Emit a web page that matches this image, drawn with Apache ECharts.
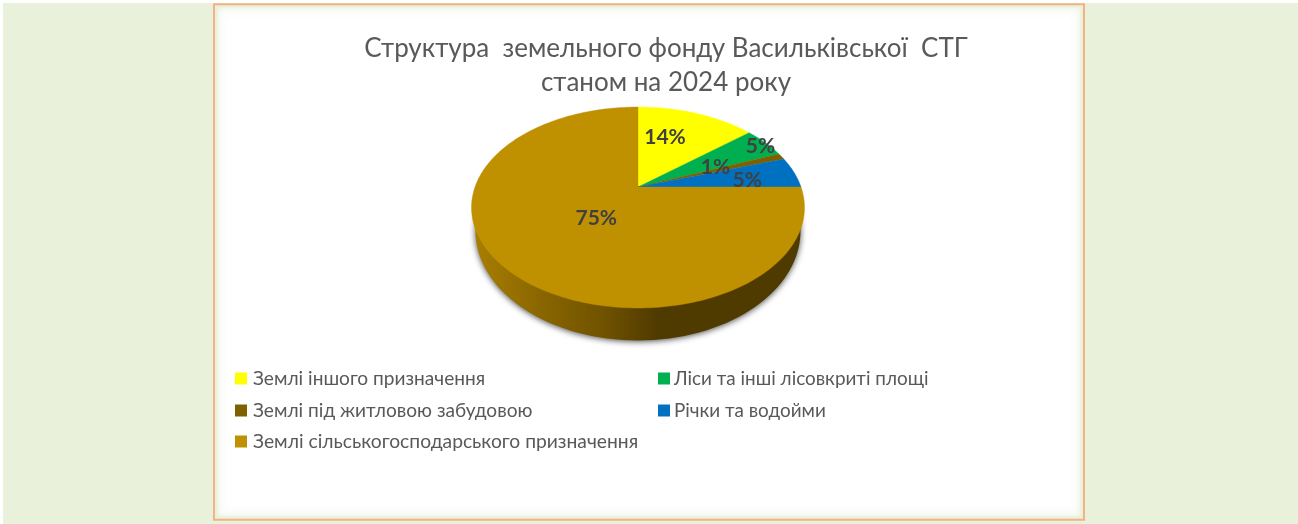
<!DOCTYPE html>
<html><head><meta charset="utf-8">
<style>html,body{margin:0;padding:0;background:#fff}#c{width:1298px;height:524px}</style>
<script src="https://cdn.jsdelivr.net/npm/echarts@6/dist/echarts.min.js"></script>
</head><body><div id="c"></div>
<script>
const titleLines = ['Структура  земельного фонду Васильківської  СТГ', 'станом на 2024 року'];
const categories = ['Землі іншого призначення','Ліси та інші лісовкриті площі','Землі під житловою забудовою','Річки та водойми','Землі сільськогосподарського призначення'];
const values = [14,5,1,5,75];
const colors = ['#ffff00','#00b050','#7f6000','#0070c0','#bf9000'];
const labelNudge = [[-16,4],[31,-9],[-25,2],[-1,4],[48,-22]];
const legendPos = [[235,369],[658,369],[235,401],[658,401],[235,432]];
const legendGapFix = [2,0,2,0,2];
const legendFontSize = [19.1,18.9,19.1,18.9,19.25];
const FONT = 'Lato, "Noto Sans", sans-serif';
const P = {cx:638, cy:187, g:163, f:96.3, k:0.204};
const wall = {sx:0.976, sy:1.09, shift:21.6};
function proj(t, r, sx, sy, shift){
  const x=r*Math.sin(t), y=r*Math.cos(t), d=1+P.k*y;
  return [P.cx+P.g*sx*x/d, P.cy+shift-P.f*sy*y/d];
}
const total = values.reduce((a,b)=>a+b,0);
const starts=[]; values.reduce((a,v,i)=>{starts[i]=a;return a+v;},0);
const chart = echarts.init(document.getElementById('c'));
const sliceSeries = categories.map((name,i)=>({
  type:'custom', name, coordinateSystem:'none', silent:true, animation:false,
  itemStyle:{color:colors[i]}, data:[[values[i]]],
  renderItem:(params,api)=>{
    const v=api.value(0);
    const a0=starts[i]/total*2*Math.PI, a1=a0+v/total*2*Math.PI;
    const pts=[proj(0,0,1,1,0)], n=Math.max(4,Math.ceil(v*3));
    for(let j=0;j<=n;j++) pts.push(proj(a0+(a1-a0)*j/n,1,1,1,0));
    const kids=[{type:'polygon',z2:5,shape:{points:pts},style:{fill:colors[i],stroke:colors[i],lineWidth:0.4}}];
    const mid=(a0+a1)/2, lp=proj(mid,0.7,1,1,0);
    kids.push({type:'text',z2:50,x:lp[0]+labelNudge[i][0],y:lp[1]+labelNudge[i][1],
      style:{text:Math.round(v/total*100)+'%',fill:'#404040',font:'bold 21px '+FONT,align:'center',verticalAlign:'middle'}});
    const w0=Math.max(a0,Math.PI/2), w1=Math.min(a1,1.5*Math.PI);
    if(w1>w0){
      const top=[],bot=[],m=80;
      for(let j=0;j<=m;j++){const t=w0+(w1-w0)*j/m; top.push(proj(t,0.9,1,1,0)); bot.unshift(proj(t,1,wall.sx,wall.sy,wall.shift));}
      kids.push({type:'polygon',z2:1,shape:{points:top.concat(bot)},style:{
        fill:new echarts.graphic.LinearGradient(0,0,1,0,[
          {offset:0,color:'#a87d00'},{offset:0.2,color:'#8a6600'},{offset:0.4,color:'#6f5200'},{offset:0.56,color:'#4f3a00'},{offset:1,color:'#4f3a00'}]),
        shadowBlur:6,shadowColor:'rgba(0,0,0,0.7)',shadowOffsetY:1}});
    }
    return {type:'group',children:kids};
  }
}));
const glow=[];
for(let i=0;i<10;i++){
  glow.push({type:'rect',silent:true,z:-8,shape:{x:217+i,y:7+i,width:864-2*i,height:510-2*i,r:5},style:{fill:'rgba(255,255,255,0.28)'}});
}
chart.setOption({
  animation:false,
  backgroundColor:'#ffffff',
  title:{text:titleLines.join('\n'),left:661,top:27,textAlign:'center',
    textStyle:{fontFamily:FONT,fontSize:26,fontWeight:'normal',color:'#595959',lineHeight:34}},
  legend:categories.map((name,i)=>({data:[name],left:legendPos[i][0],top:legendPos[i][1],
    orient:'horizontal',selectedMode:false,icon:'rect',itemWidth:12,itemHeight:12,itemGap:0,padding:0,
    textStyle:{fontFamily:FONT,fontSize:legendFontSize[i],color:'#595959',padding:[0,0,0,legendGapFix[i]-1]}})),
  graphic:[
    {type:'rect',silent:true,z:-10,shape:{x:3,y:3,width:1295,height:521},style:{fill:'#e9f1db'}},
    {type:'rect',silent:true,z:-9,shape:{x:214,y:4.3,width:870,height:515.4},style:{fill:'#e9f1db',stroke:'#f4b183',lineWidth:2}},
    ...glow,
    {type:'rect',silent:true,z:-7,shape:{x:227,y:17,width:844,height:490,r:4},style:{fill:'#ffffff'}}
  ],
  series:sliceSeries
});
</script></body></html>
